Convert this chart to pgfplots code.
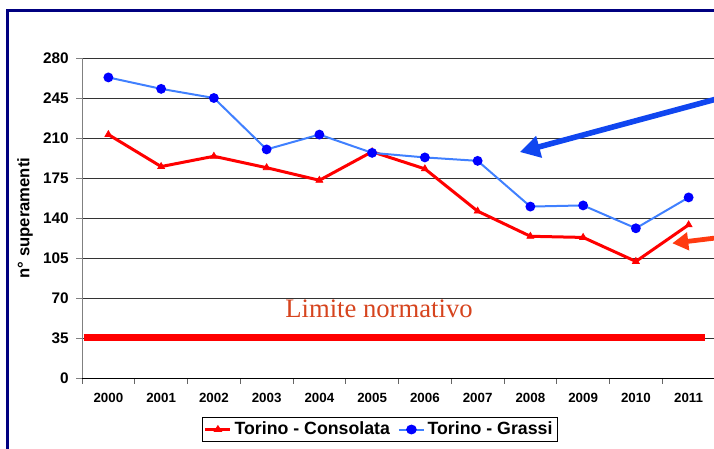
\documentclass[border=0pt]{standalone}
\usepackage{pgfplots}
\pgfplotsset{compat=1.18}
\usepackage{fontspec}
\setmainfont{Liberation Sans}
\newfontfamily\serifface{Liberation Serif}
\usetikzlibrary{arrows.meta}

\definecolor{lineblue}{RGB}{64,128,255}
\definecolor{markblue}{RGB}{0,0,255}
\definecolor{arrowblue}{RGB}{16,70,240}
\definecolor{arrowred}{RGB}{255,58,16}
\definecolor{limtext}{RGB}{214,68,30}
\definecolor{framenavy}{RGB}{0,0,128}

\begin{document}
\begin{tikzpicture}
\useasboundingbox (0,0) rectangle (535.5pt,336.75pt);
\clip (0,0) rectangle (535.5pt,336.75pt);

% frame of the chart area (only left and top edges visible)
\draw[framenavy, line width=2.25pt] (5.25pt,-2pt) -- (5.25pt,328.5pt) -- (540pt,328.5pt);

\begin{axis}[
    at={(61.5pt,53.25pt)}, anchor=south west,
    scale only axis,
    width=474.75pt, height=240pt,
    xmin=-0.5, xmax=11.5,
    ymin=0, ymax=280,
    xtick={0,...,11},
    xticklabels={2000,2001,2002,2003,2004,2005,2006,2007,2008,2009,2010,2011},
    minor xtick={-0.5,0.5,...,11.5},
    ytick={0,35,...,280},
    tick align=outside,
    major tick length=4.5pt,
    minor tick length=4.5pt,
    xtick style={draw=none},
    minor x tick style={draw=gray!80!black, thin},
    ytick style={draw=gray, thin},
    axis lines*=left,
    x axis line style={draw=black, thin},
    y axis line style={draw=gray, thin},
    ymajorgrids,
    major grid style={draw=black!80, line width=0.6pt},
    /pgf/number format/assume math mode=true,
    yticklabel style={font=\fontsize{11.5}{12}\selectfont\bfseries, xshift=-2pt},
    xticklabel style={font=\fontsize{10}{12}\selectfont\bfseries, yshift=-3pt},
    ylabel={n° superamenti},
    every axis y label/.style={at={(axis description cs:0,0.5)}, xshift=-42.75pt,
        rotate=90, anchor=center, font=\fontsize{12.5}{14}\selectfont\bfseries},
    legend style={at={(0.47,-0.161)}, anchor=center, legend columns=2,
        draw=black, line width=0.6pt, inner sep=1.5pt,
        font=\fontsize{13.3}{15}\selectfont\bfseries,
        /tikz/every even column/.append style={column sep=4pt}},
    legend image post style={xscale=1.1},
    legend cell align=left,
    clip=false,
]
\addplot[red, line width=2.25pt, mark=triangle*, mark size=3pt,
    mark options={solid, fill=red, line width=0.5pt}]
coordinates {
    (0,213) (1,185) (2,194) (3,184) (4,173) (5,198)
    (6,183) (7,146) (8,124) (9,123) (10,102) (11,134)
};
\addlegendentry{Torino - Consolata}
\addplot[lineblue, line width=1.5pt, mark=*, mark size=2.9pt,
    mark options={solid, fill=markblue, draw=markblue}]
coordinates {
    (0,263) (1,253) (2,245) (3,200) (4,213) (5,197)
    (6,193) (7,190) (8,150) (9,151) (10,131) (11,158)
};
\addlegendentry{Torino - Grassi}

% legal limit
\addplot[red, line width=5.25pt, forget plot] coordinates {(-0.47,35) (11.31,35)};
\node[font=\serifface\fontsize{20}{22}\selectfont, text=limtext]
    at (axis cs:5.13,60.5) {Limite normativo};

% annotation arrows
\draw[arrowblue, line width=4.2pt, -{Triangle[length=15pt,width=16pt]}]
    (axis cs:11.6,245) -- (axis cs:7.8,197.7);
\draw[arrowred, line width=3.6pt, -{Triangle[length=12pt,width=13pt]}]
    (axis cs:11.6,123) -- (axis cs:10.69,117.9);
\end{axis}
\end{tikzpicture}
\end{document}
